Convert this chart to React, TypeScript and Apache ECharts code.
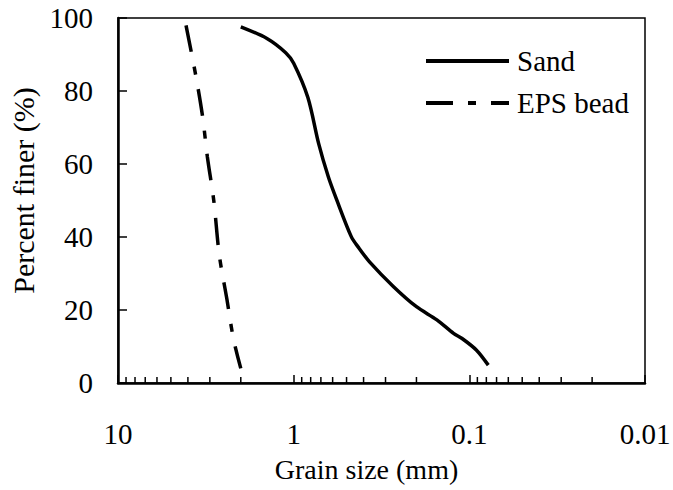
import React, { useEffect, useRef } from "react";
import * as echarts from "echarts";

const FONT = "'Liberation Serif', 'Times New Roman', serif";

// Grain size (mm), percent finer (%)
const sandSize = [2.0, 1.42, 1.11, 1.0, 0.83, 0.72, 0.635, 0.57, 0.47, 0.43, 0.37, 0.27, 0.2, 0.153, 0.123, 0.11, 0.091, 0.078];
const sandFiner = [97.6, 94.4, 90.5, 87.6, 78.2, 65.5, 56.5, 50.3, 40.1, 37.3, 33.2, 26.4, 20.9, 17.3, 13.6, 12.2, 9.0, 4.9];

const epsSize = [4.1, 3.6, 3.3, 3.1, 2.85, 2.65, 2.4, 2.2, 2.0];
const epsFiner = [98, 84, 73, 62, 50, 35, 23, 12, 4];

const seriesNames = ["Sand", "EPS bead"];
const xTickLabels: Record<string, string> = { "-2": "0.01", "-1": "0.1", "0": "1", "1": "10" };
const minorMultipliers = [2, 3, 4, 5, 6, 7, 8, 9];
const decades = [0.01, 0.1, 1];

export default function App() {
  const ref = useRef<HTMLDivElement>(null);

  useEffect(() => {
    if (!ref.current) return;
    const chart = echarts.init(ref.current, null, { renderer: "svg" });

    const minorTicks: number[][] = [];
    decades.forEach((d) => minorMultipliers.forEach((m) => minorTicks.push([m * d, 0])));

    const option: any = {
      animation: false,
      backgroundColor: "#fff",
      textStyle: { fontFamily: FONT, color: "#000" },
      grid: {
        left: 118,
        top: 18,
        width: 527,
        height: 365,
        show: true,
        borderColor: "#000",
        borderWidth: 1.5,
        containLabel: false,
        outerBoundsMode: "none",
      },
      legend: {
        data: seriesNames,
        orient: "vertical",
        left: 424,
        top: 46,
        padding: 0,
        itemWidth: 83,
        itemHeight: 14,
        itemGap: 12,
        itemStyle: { opacity: 0, borderWidth: 0 },
        textStyle: { fontFamily: FONT, fontSize: 29, color: "#000", lineHeight: 30, padding: [0, 0, 0, 3] },
        lineStyle: { width: 4 },
      },
      xAxis: {
        type: "log",
        logBase: 10,
        min: 0.01,
        max: 10,
        inverse: true,
        name: "Grain size (mm)",
        nameLocation: "middle",
        nameGap: 72,
        nameTextStyle: { fontFamily: FONT, fontSize: 28, color: "#000", padding: [0, 30, 0, 0] },
        axisLine: { show: true, lineStyle: { color: "#000", width: 2.5 } },
        axisTick: { show: true, inside: true, length: 8, lineStyle: { color: "#000", width: 1.5 } },
        axisLabel: {
          fontFamily: FONT,
          fontSize: 29,
          color: "#000",
          margin: 36,
          formatter: (v: number) => {
            const k = Math.round(Math.log10(v));
            return xTickLabels[String(k)] ?? String(v);
          },
        },
        splitLine: { show: false },
        minorTick: { show: false },
      },
      yAxis: {
        type: "value",
        min: 0,
        max: 100,
        interval: 20,
        name: "Percent finer (%)",
        nameLocation: "middle",
        nameGap: 76,
        nameTextStyle: { fontFamily: FONT, fontSize: 30, color: "#000", padding: [0, 0, 0, 20] },
        axisLine: { show: true, lineStyle: { color: "#000", width: 2.5 } },
        axisTick: { show: true, inside: true, length: 9, lineStyle: { color: "#000", width: 1.5 } },
        axisLabel: { fontFamily: FONT, fontSize: 29, color: "#000", margin: 25 },
        splitLine: { show: false },
      },
      series: [
        {
          name: seriesNames[0],
          type: "line",
          data: sandSize.map((x, i) => [x, sandFiner[i]]),
          showSymbol: false,
          symbol: "none",
          smooth: 0.3,
          lineStyle: { color: "#000", width: 3.5, type: "solid" },
          itemStyle: { color: "#000" },
        },
        {
          name: seriesNames[1],
          type: "line",
          data: epsSize.map((x, i) => [x, epsFiner[i]]),
          showSymbol: false,
          symbol: "none",
          smooth: 0.3,
          lineStyle: { color: "#000", width: 3.5, type: [27, 15, 8, 15], cap: "butt" },
          itemStyle: { color: "#000" },
        },
        {
          name: "minorTicks",
          type: "custom",
          data: minorTicks,
          encode: { x: 0, y: 1 },
          silent: true,
          clip: false,
          renderItem: (params: any, api: any) => {
            const p = api.coord([api.value(0), 0]);
            return {
              type: "line",
              shape: { x1: p[0], y1: p[1], x2: p[0], y2: p[1] - 6 },
              style: { stroke: "#000", lineWidth: 1.5 },
            };
          },
        },
      ],
    };

    chart.setOption(option);
    return () => chart.dispose();
  }, []);

  return (
    <div
      ref={ref}
      style={{ position: "fixed", left: 0, top: 0, width: 673, height: 490, background: "#fff" }}
    />
  );
}
